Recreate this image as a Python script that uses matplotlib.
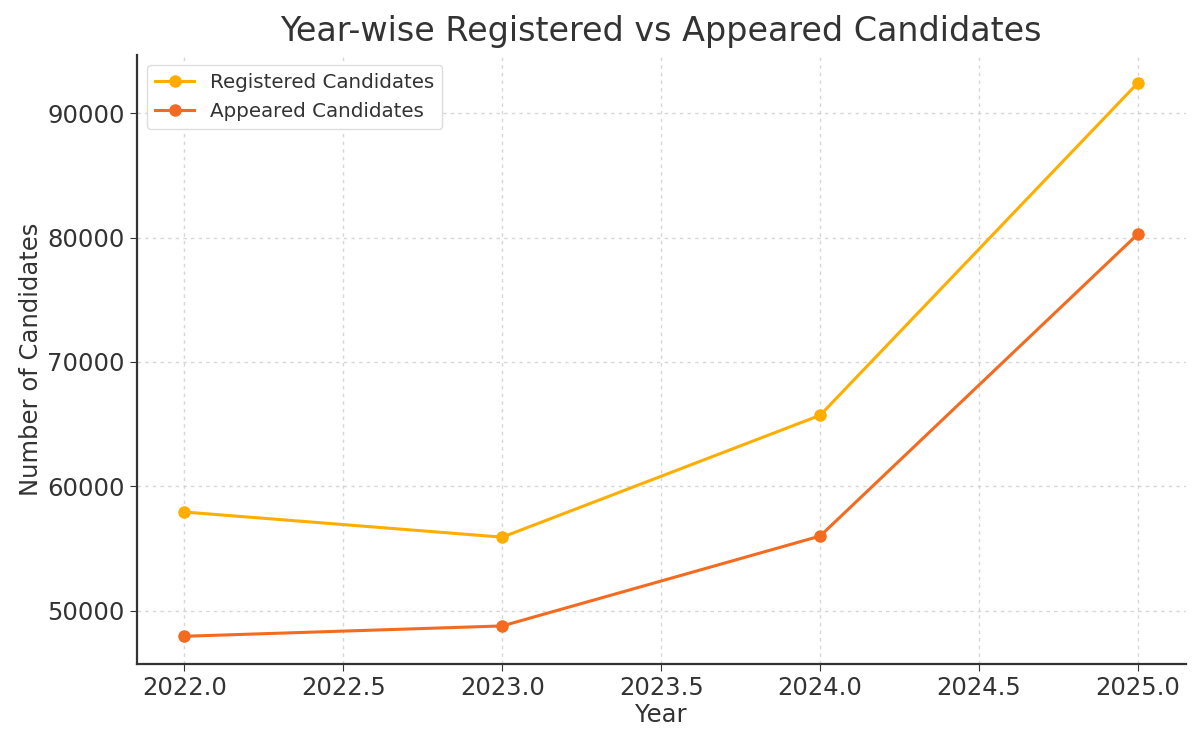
import matplotlib
matplotlib.use('Agg')
import matplotlib.pyplot as plt

# data
years = [2022, 2023, 2024, 2025]
registered = [57950, 55930, 65720, 92420]
appeared = [47970, 48800, 56020, 80280]

plt.rcParams['font.family'] = ['DejaVu Sans']

fig = plt.figure(figsize=(12, 7.46), dpi=100)
ax = fig.add_axes([0.114, 0.110, 0.874, 0.816])

ax.plot(years, registered, marker='o', color='#FFAE00', linewidth=2.2, markersize=8,
        label='Registered Candidates')
ax.plot(years, appeared, marker='o', color='#F46A1F', linewidth=2.2, markersize=8,
        label='Appeared Candidates')

ax.set_title('Year-wise Registered vs Appeared Candidates', fontsize=24, color='#333333', pad=10)
ax.set_xlabel('Year', fontsize=17.5, color='#333333', labelpad=2)
ax.set_ylabel('Number of Candidates', fontsize=17.5, color='#333333', labelpad=3)

ax.grid(True, linestyle=(0, (2.5, 3)), color='#CCCCCC', linewidth=1, alpha=0.8)
ax.spines['top'].set_visible(False)
ax.spines['right'].set_visible(False)
for s in ['left', 'bottom']:
    ax.spines[s].set_color('#333333')
    ax.spines[s].set_linewidth(1.6)
ax.tick_params(labelsize=17.5, colors='#333333', length=5)

leg = ax.legend(loc='upper left', fontsize=14.3, framealpha=1, edgecolor='#DDDDDD')
for t in leg.get_texts():
    t.set_color('#333333')

fig.savefig('out.png', dpi=100)
